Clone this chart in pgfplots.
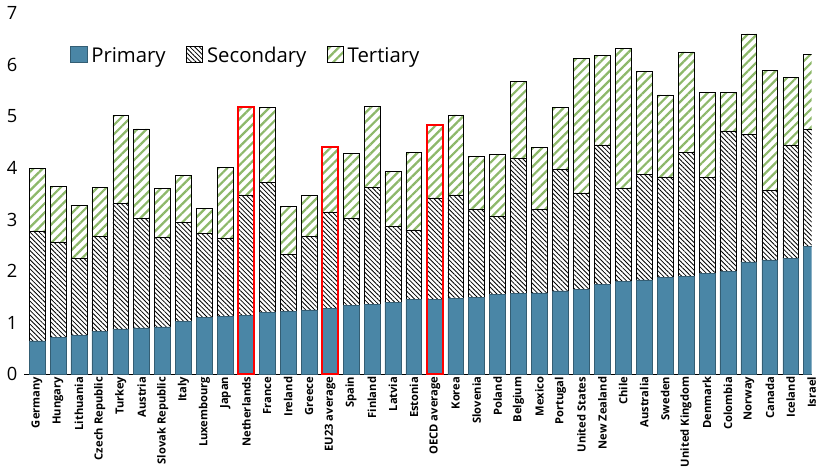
\documentclass[border=0pt]{standalone}
\usepackage{pgfplots}
\pgfplotsset{compat=1.18}
\usepackage{pgfplotstable}
\usepackage{fontspec}
\setmainfont{Open Sans}
\usetikzlibrary{patterns.meta}
\definecolor{prim}{HTML}{4A86A6}
\definecolor{tert}{HTML}{8DB86A}
\pgfplotstableread{
x p s t
0 0.65 2.13 1.22
1 0.72 1.85 1.08
2 0.75 1.50 1.03
3 0.83 1.85 0.94
4 0.88 2.44 1.70
5 0.90 2.13 1.73
6 0.92 1.73 0.96
7 1.02 1.93 0.90
8 1.10 1.63 0.49
9 1.12 1.51 1.39
10 1.15 2.33 1.70
11 1.20 2.52 1.46
12 1.22 1.11 0.92
13 1.25 1.42 0.80
14 1.28 1.87 1.25
15 1.33 1.70 1.26
16 1.35 2.28 1.57
17 1.40 1.47 1.06
18 1.45 1.35 1.50
19 1.45 1.97 1.41
20 1.48 2.00 1.55
21 1.50 1.70 1.03
22 1.55 1.51 1.20
23 1.57 2.61 1.50
24 1.58 1.62 1.20
25 1.62 2.36 1.19
26 1.65 1.87 2.60
27 1.75 2.70 1.73
28 1.80 1.80 2.72
29 1.83 2.04 2.00
30 1.88 1.95 1.59
31 1.90 2.40 1.95
32 1.95 1.87 1.65
33 2.00 2.72 0.75
34 2.18 2.47 1.95
35 2.22 1.35 2.33
36 2.25 2.20 1.30
37 2.48 2.27 1.45
}\data
\begin{document}
\begin{tikzpicture}
\begin{axis}[
  scale only axis, width=387pt, height=177.5pt,
  ybar stacked, bar width=7.8pt,
  xmin=-0.6, xmax=37.0, ymin=0, ymax=7,
  ytick={0,...,7},
  axis x line*=bottom, axis y line*=left,
  y axis line style={draw=none},
  x axis line style={black},
  ytick style={draw=none}, xtick style={draw=none},
  xtick=data,
  xticklabels={Germany,Hungary,Lithuania,Czech Republic,Turkey,Austria,Slovak Republic,Italy,Luxembourg,Japan,Netherlands,France,Ireland,Greece,EU23 average,Spain,Finland,Latvia,Estonia,OECD average,Korea,Slovenia,Poland,Belgium,Mexico,Portugal,United States,New Zealand,Chile,Australia,Sweden,United Kingdom,Denmark,Colombia,Norway,Canada,Iceland,Israel},
  x tick label style={rotate=90, anchor=east, font=\fontsize{5.5}{6}\selectfont\bfseries, inner sep=1pt},
  y tick label style={font=\fontsize{9}{10}\selectfont},
  /pgf/number format/assume math mode=true,
  legend style={at={(0.05,0.93)}, anchor=north west, draw=none, fill=none, font=\fontsize{10}{12}\selectfont, legend columns=-1, /tikz/every even column/.append style={column sep=8pt}},
  legend image code/.code={\draw[#1] (0pt,-3pt) rectangle (8pt,5pt);},
  after end axis/.code={
    \draw[red, line width=1pt] (axis cs:9.62,0) rectangle (axis cs:10.38,5.18);
    \draw[red, line width=1pt] (axis cs:13.62,0) rectangle (axis cs:14.38,4.40);
    \draw[red, line width=1pt] (axis cs:18.62,0) rectangle (axis cs:19.38,4.83);
  },
]
\addplot[fill=prim, draw=prim!70!black, line width=0.3pt] table[x=x,y=p]{\data};
\addplot[draw=black, line width=0.3pt, pattern={Lines[angle=-45,distance=1.6pt,line width=0.4pt]}] table[x=x,y=s]{\data};
\addplot[draw=black, line width=0.3pt, pattern={Lines[angle=45,distance=3.2pt,line width=1.1pt]}, pattern color=tert] table[x=x,y=t]{\data};
\legend{Primary,Secondary,Tertiary}
\end{axis}
\end{tikzpicture}
\end{document}
